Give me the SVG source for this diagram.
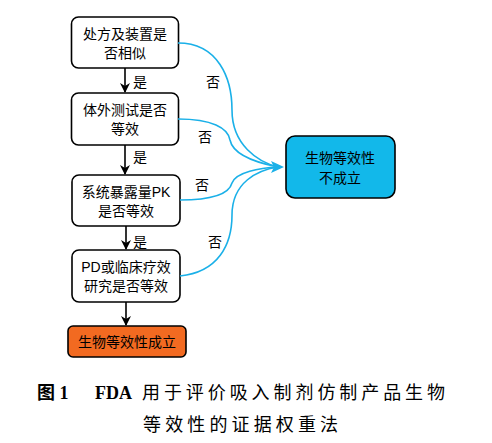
<svg xmlns="http://www.w3.org/2000/svg" width="492" height="443" viewBox="0 0 492 443">
<style>
.box{fill:#fff;stroke:#000;stroke-width:1.6}
.t{font-family:"Liberation Sans","Noto Sans CJK SC",sans-serif;font-size:14px;fill:#000;text-anchor:middle}
.lb{font-family:"Liberation Serif","Noto Sans CJK SC",serif;font-size:14px;fill:#000;text-anchor:middle}
.cap{font-family:"Liberation Serif","Noto Sans CJK SC",serif;font-size:18px;fill:#000}
.v{stroke:#000;stroke-width:1.6;fill:none;marker-end:url(#ab)}
.c{stroke:#1ab0e8;stroke-width:1.6;fill:none}
</style>
<defs>
<marker id="ab" markerWidth="10" markerHeight="10" refX="9" refY="5" orient="auto" markerUnits="userSpaceOnUse">
<path d="M0,0 L10,5 L0,10 L3,5 Z" fill="#000"/>
</marker>
</defs>
<g id="n1"><rect class="box" x="71.5" y="17" width="107" height="51" rx="7"/><text class="t" x="125" y="39">处方及装置是</text><text class="t" x="125" y="58">否相似</text></g>
<g id="n2"><rect class="box" x="71.5" y="93" width="107" height="52" rx="7"/><text class="t" x="125" y="115">体外测试是否</text><text class="t" x="125" y="134">等效</text></g>
<g id="n3"><rect class="box" x="72" y="175" width="108" height="51" rx="7"/><text class="t" x="126" y="197">系统暴露量PK</text><text class="t" x="126" y="216">是否等效</text></g>
<g id="n4"><rect class="box" x="72" y="250" width="108" height="52" rx="7"/><text class="t" x="126" y="272">PD或临床疗效</text><text class="t" x="126" y="291">研究是否等效</text></g>
<g id="n5"><rect x="68" y="326" width="118" height="31" rx="5" fill="#f26a21" stroke="#000" stroke-width="1.6"/><text class="t" x="127" y="347">生物等效性成立</text></g>
<g id="n6"><rect x="286" y="136" width="109" height="62" rx="9" fill="#12b8ea" stroke="#000" stroke-width="1.6"/><text class="t" x="340" y="163">生物等效性</text><text class="t" x="340" y="183">不成立</text></g>
<g id="connectors">
<path class="v" d="M125,68 L125,92"/>
<path class="v" d="M125,145 L125,174"/>
<path class="v" d="M126,226 L126,249"/>
<path class="v" d="M126,302 L126,325"/>
<path class="c" d="M178,43 C218,43 232,78 232,110 C232,145 258,162 278,167"/>
<path class="c" d="M178,119 C212,119 228,128 230,140 C233,155 258,163 278,167"/>
<path class="c" d="M180,200 C214,200 229,194 232,183 C236,172 260,168 278,167"/>
<path class="c" d="M180,276 C218,272 232,245 232,215 C232,182 258,170 278,167"/>
<path d="M284,167 L271,161 L274,167 L271,173 Z" fill="#1ab0e8"/>
<text class="lb" x="140" y="87">是</text>
<text class="lb" x="140" y="162">是</text>
<text class="lb" x="140" y="247">是</text>
<text class="lb" x="213" y="87">否</text>
<text class="lb" x="205" y="142">否</text>
<text class="lb" x="202" y="190">否</text>
<text class="lb" x="215" y="247">否</text>
</g>
<g id="caption">
<text class="cap" x="37" y="399" font-weight="bold">图 1</text>
<text class="cap" x="95" y="399" font-weight="bold">FDA</text>
<text class="cap" x="142" y="399" textLength="303" lengthAdjust="spacing">用于评价吸入制剂仿制产品生物</text>
<text class="cap" x="143" y="431" textLength="195" lengthAdjust="spacing">等效性的证据权重法</text>
</g>
</svg>
